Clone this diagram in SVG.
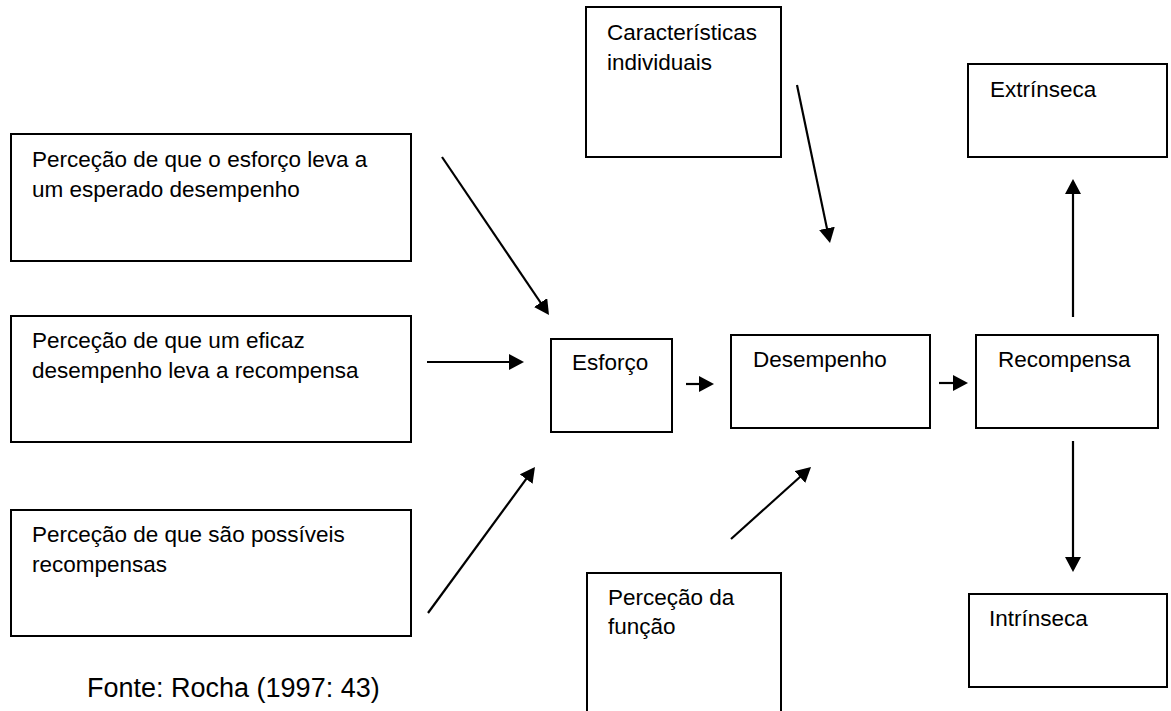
<svg xmlns="http://www.w3.org/2000/svg" width="1171" height="711" viewBox="0 0 1171 711">
<style>
.box{fill:#fff;stroke:#000;stroke-width:2}
.t{font-family:"Liberation Sans",Arial,sans-serif;font-size:22.5px;fill:#000}
.src{font-family:"Liberation Sans",Arial,sans-serif;font-size:27px;fill:#000}
.arr{stroke:#000;stroke-width:2.2;fill:none;marker-end:url(#ah)}
</style>
<defs>
<marker id="ah" markerUnits="userSpaceOnUse" markerWidth="15" markerHeight="16" refX="12" refY="8" orient="auto">
<path d="M0,0 L15,8 L0,16 Z" fill="#000"/>
</marker>
</defs>
<rect width="1171" height="711" fill="#fff"/>
<g id="n-esforco-desempenho">
<rect class="box" x="11" y="134" width="400" height="127"/>
<text class="t" x="32" y="167">Perceção de que o esforço leva a</text>
<text class="t" x="32" y="197">um esperado desempenho</text>
</g>
<g id="n-desempenho-recompensa">
<rect class="box" x="11" y="316" width="400" height="126"/>
<text class="t" x="32" y="348">Perceção de que um eficaz</text>
<text class="t" x="32" y="378">desempenho leva a recompensa</text>
</g>
<g id="n-recompensas">
<rect class="box" x="11" y="510" width="400" height="126"/>
<text class="t" x="32" y="542">Perceção de que são possíveis</text>
<text class="t" x="32" y="572">recompensas</text>
</g>
<g id="n-caracteristicas">
<rect class="box" x="586" y="7" width="195" height="150"/>
<text class="t" x="607" y="40">Características</text>
<text class="t" x="607" y="70">individuais</text>
</g>
<g id="n-funcao">
<rect class="box" x="587" y="573" width="194" height="150"/>
<text class="t" x="608" y="605">Perceção da</text>
<text class="t" x="608" y="634">função</text>
</g>
<g id="n-esforco">
<rect class="box" x="551" y="339" width="121" height="93"/>
<text class="t" x="572" y="370">Esforço</text>
</g>
<g id="n-desempenho">
<rect class="box" x="731" y="335" width="199" height="93"/>
<text class="t" x="753" y="367">Desempenho</text>
</g>
<g id="n-recompensa">
<rect class="box" x="976" y="335" width="182" height="93"/>
<text class="t" x="998" y="367">Recompensa</text>
</g>
<g id="n-extrinseca">
<rect class="box" x="968" y="64" width="199" height="93"/>
<text class="t" x="990" y="97">Extrínseca</text>
</g>
<g id="n-intrinseca">
<rect class="box" x="969" y="594" width="198" height="93"/>
<text class="t" x="989" y="626">Intrínseca</text>
</g>
<g id="connectors">
<line class="arr" x1="442" y1="157" x2="547.3" y2="312.5"/>
<line class="arr" x1="427" y1="362" x2="521" y2="362"/>
<line class="arr" x1="428" y1="613" x2="533.2" y2="469.4"/>
<line class="arr" x1="797" y1="85" x2="829.4" y2="240.1"/>
<line class="arr" x1="731" y1="539" x2="808.8" y2="469"/>
<line class="arr" x1="686" y1="384" x2="711" y2="384"/>
<line class="arr" x1="939" y1="383" x2="965" y2="383"/>
<line class="arr" x1="1073" y1="317" x2="1073" y2="182"/>
<line class="arr" x1="1073" y1="441" x2="1073" y2="569"/>
</g>
<g id="source">
<text class="src" x="87" y="697">Fonte: Rocha (1997: 43)</text>
</g>
</svg>
